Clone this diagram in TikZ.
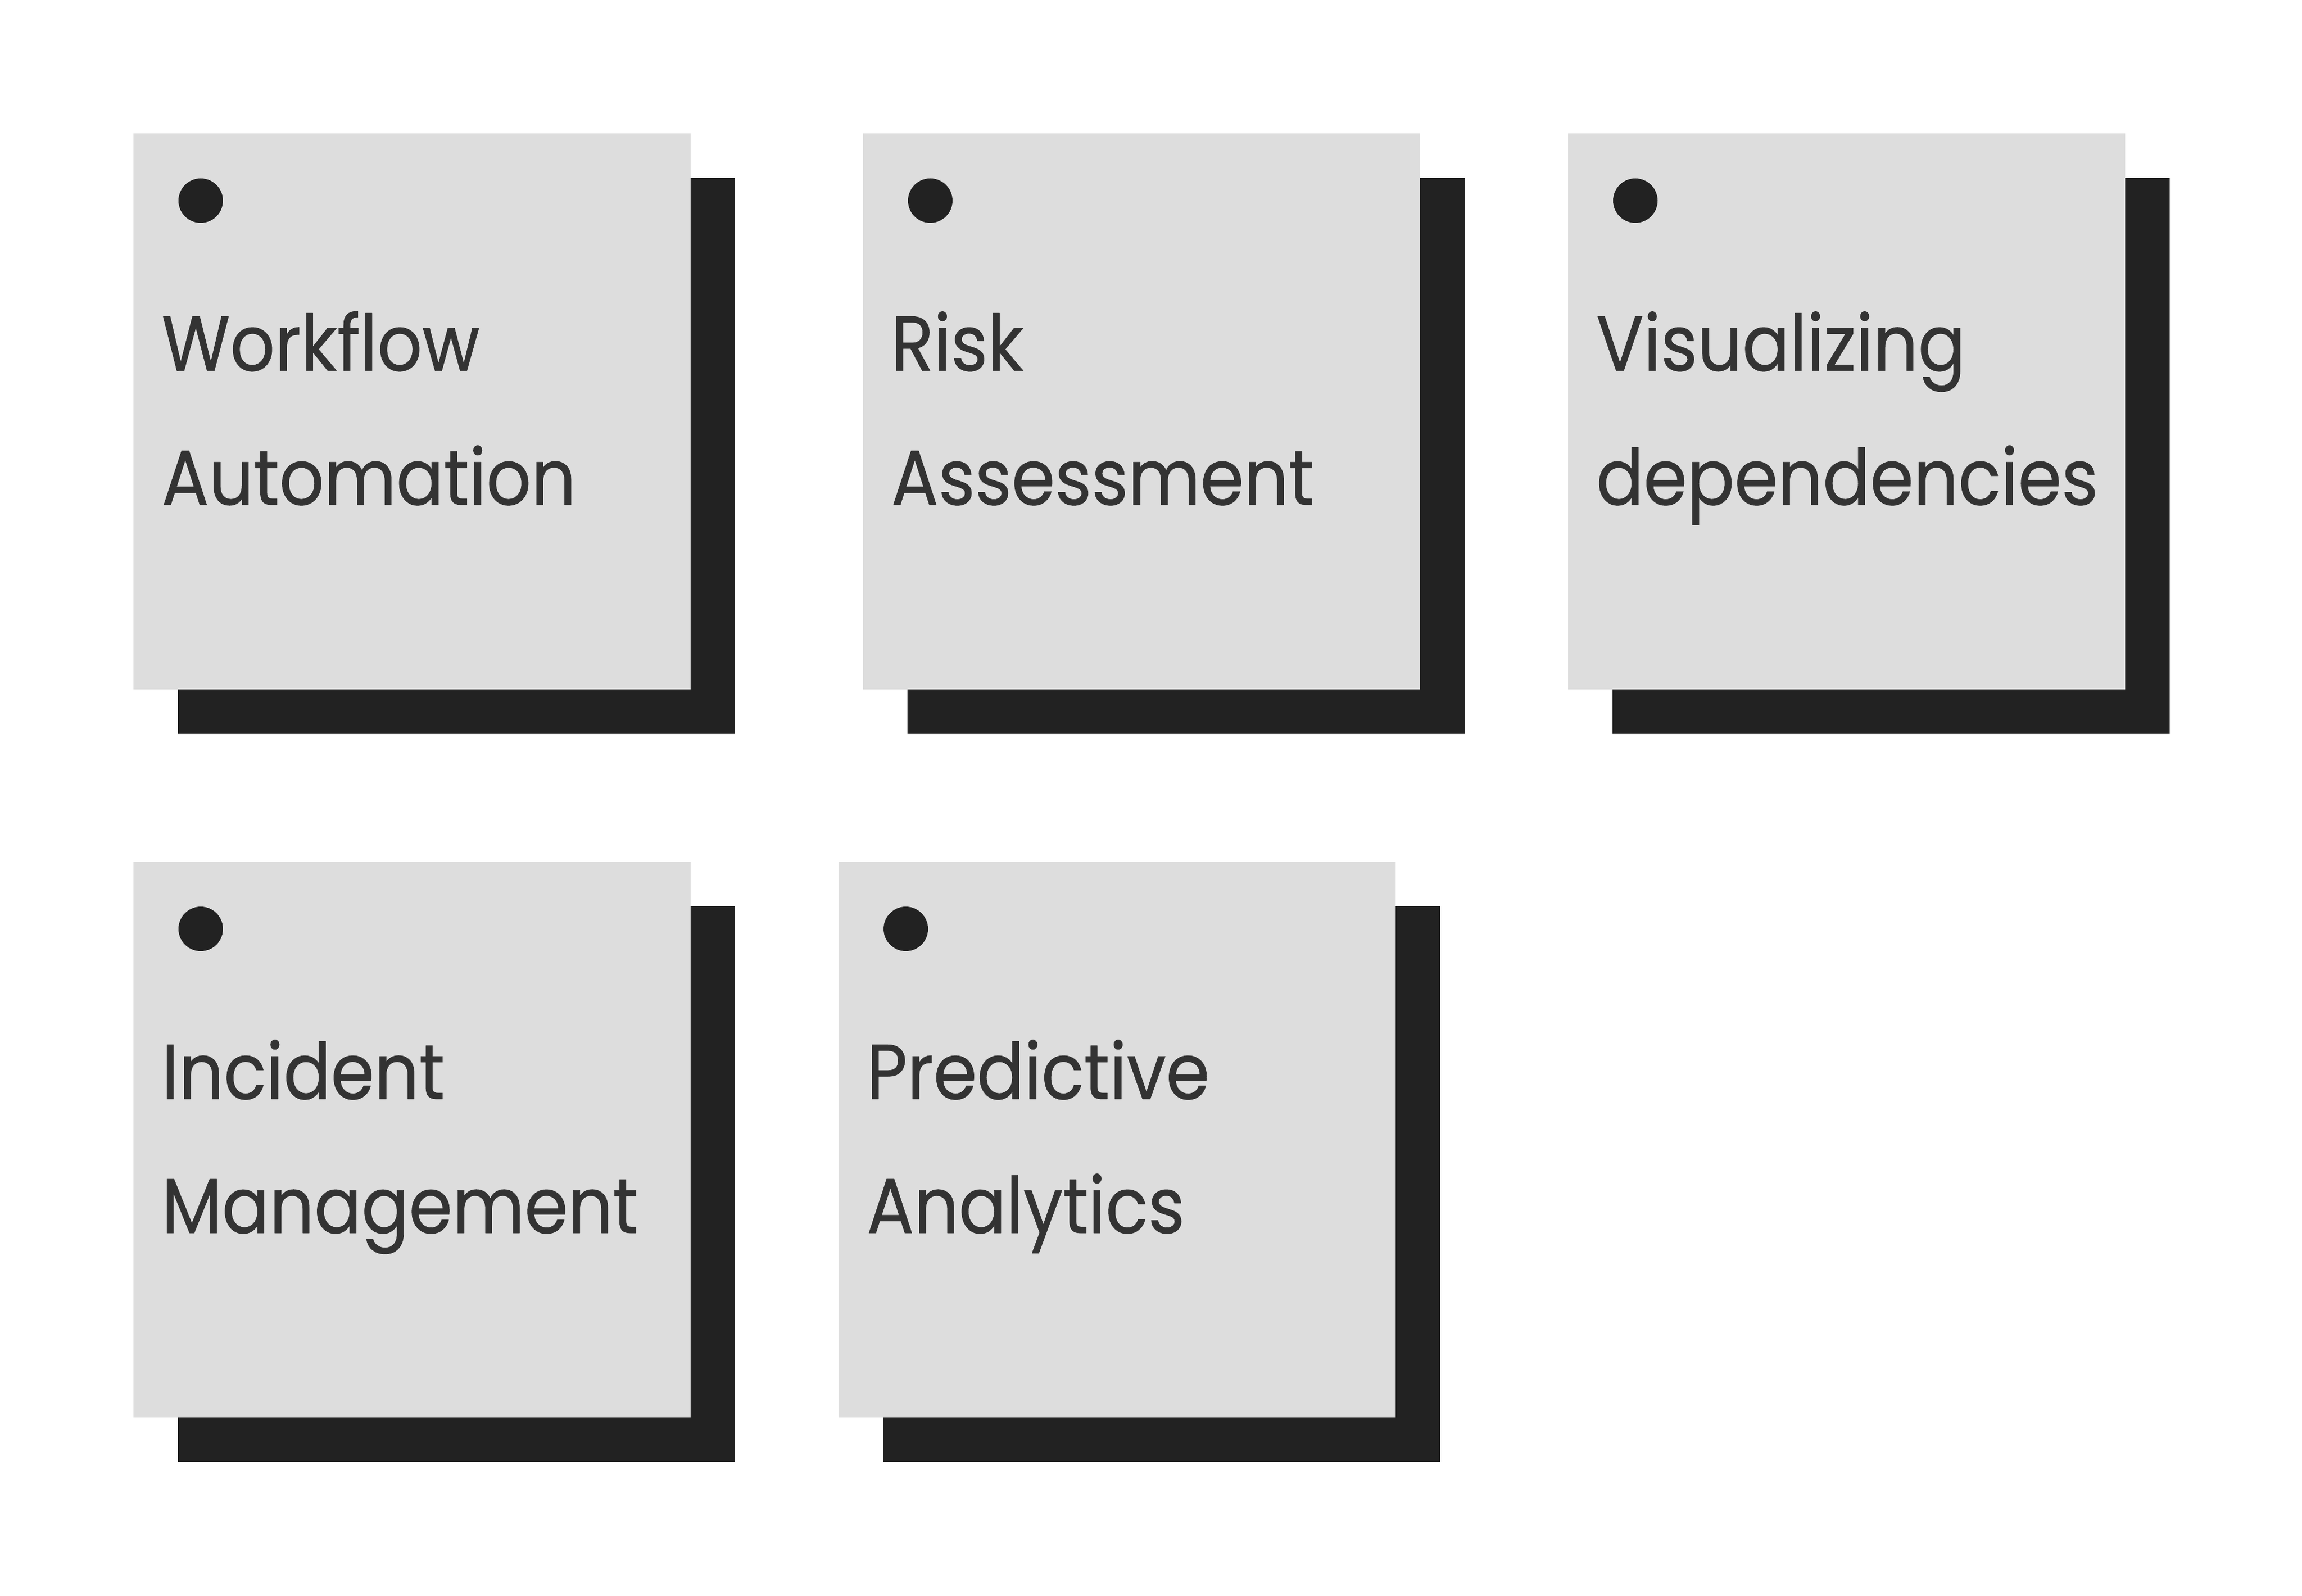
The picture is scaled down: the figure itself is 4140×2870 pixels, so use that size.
\documentclass[tikz,border=0pt]{standalone}
\usepackage{fontspec}
\setmainfont{Poppins}[FakeStretch=0.9,FakeBold=0.6]
\usepackage{tikz}
\usetikzlibrary{positioning}
\definecolor{cardgray}{HTML}{DDDDDD}
\definecolor{shadowblack}{HTML}{222222}
\definecolor{inkgray}{HTML}{333333}
\tikzset{
  label/.style={anchor=base west,inner sep=0pt,text=inkgray,font=\fontsize{35}{42}\selectfont},
}
\begin{document}
\begin{tikzpicture}[x=0.25pt,y=0.25pt,line cap=round,line join=round]
        \useasboundingbox[fill=white] (0,0) rectangle (4140,2870);
        % 
        \fill[shadowblack] (320,1550) rectangle (1322,2550);
        \fill[cardgray] (240,1630) rectangle (1242,2630);
        \fill[shadowblack] (361,2509) circle (40);
        \node[label] (wf1) at (290,2203) {Workflow};
        \node[label] (wf2) at (290,1962) {Automation};
        % 
        \fill[shadowblack] (1632,1550) rectangle (2634,2550);
        \fill[cardgray] (1552,1630) rectangle (2554,2630);
        \fill[shadowblack] (1673,2509) circle (40);
        \node[label] (ra1) at (1602,2203) {Risk};
        \node[label] (ra2) at (1602,1962) {Assessment};
        % 
        \fill[shadowblack] (2900,1550) rectangle (3902,2550);
        \fill[cardgray] (2820,1630) rectangle (3822,2630);
        \fill[shadowblack] (2941,2509) circle (40);
        \node[label] (vd1) at (2870,2203) {Visualizing};
        \node[label] (vd2) at (2870,1962) {dependencies};
        % 
        \fill[shadowblack] (320,240) rectangle (1322,1240);
        \fill[cardgray] (240,320) rectangle (1242,1320);
        \fill[shadowblack] (361,1199) circle (40);
        \node[label] (im1) at (290,893) {Incident};
        \node[label] (im2) at (290,652) {Management};
        % 
        \fill[shadowblack] (1588,240) rectangle (2590,1240);
        \fill[cardgray] (1508,320) rectangle (2510,1320);
        \fill[shadowblack] (1629,1199) circle (40);
        \node[label] (pa1) at (1558,893) {Predictive};
        \node[label] (pa2) at (1558,652) {Analytics};
        % 
      \end{tikzpicture}
\end{document}
